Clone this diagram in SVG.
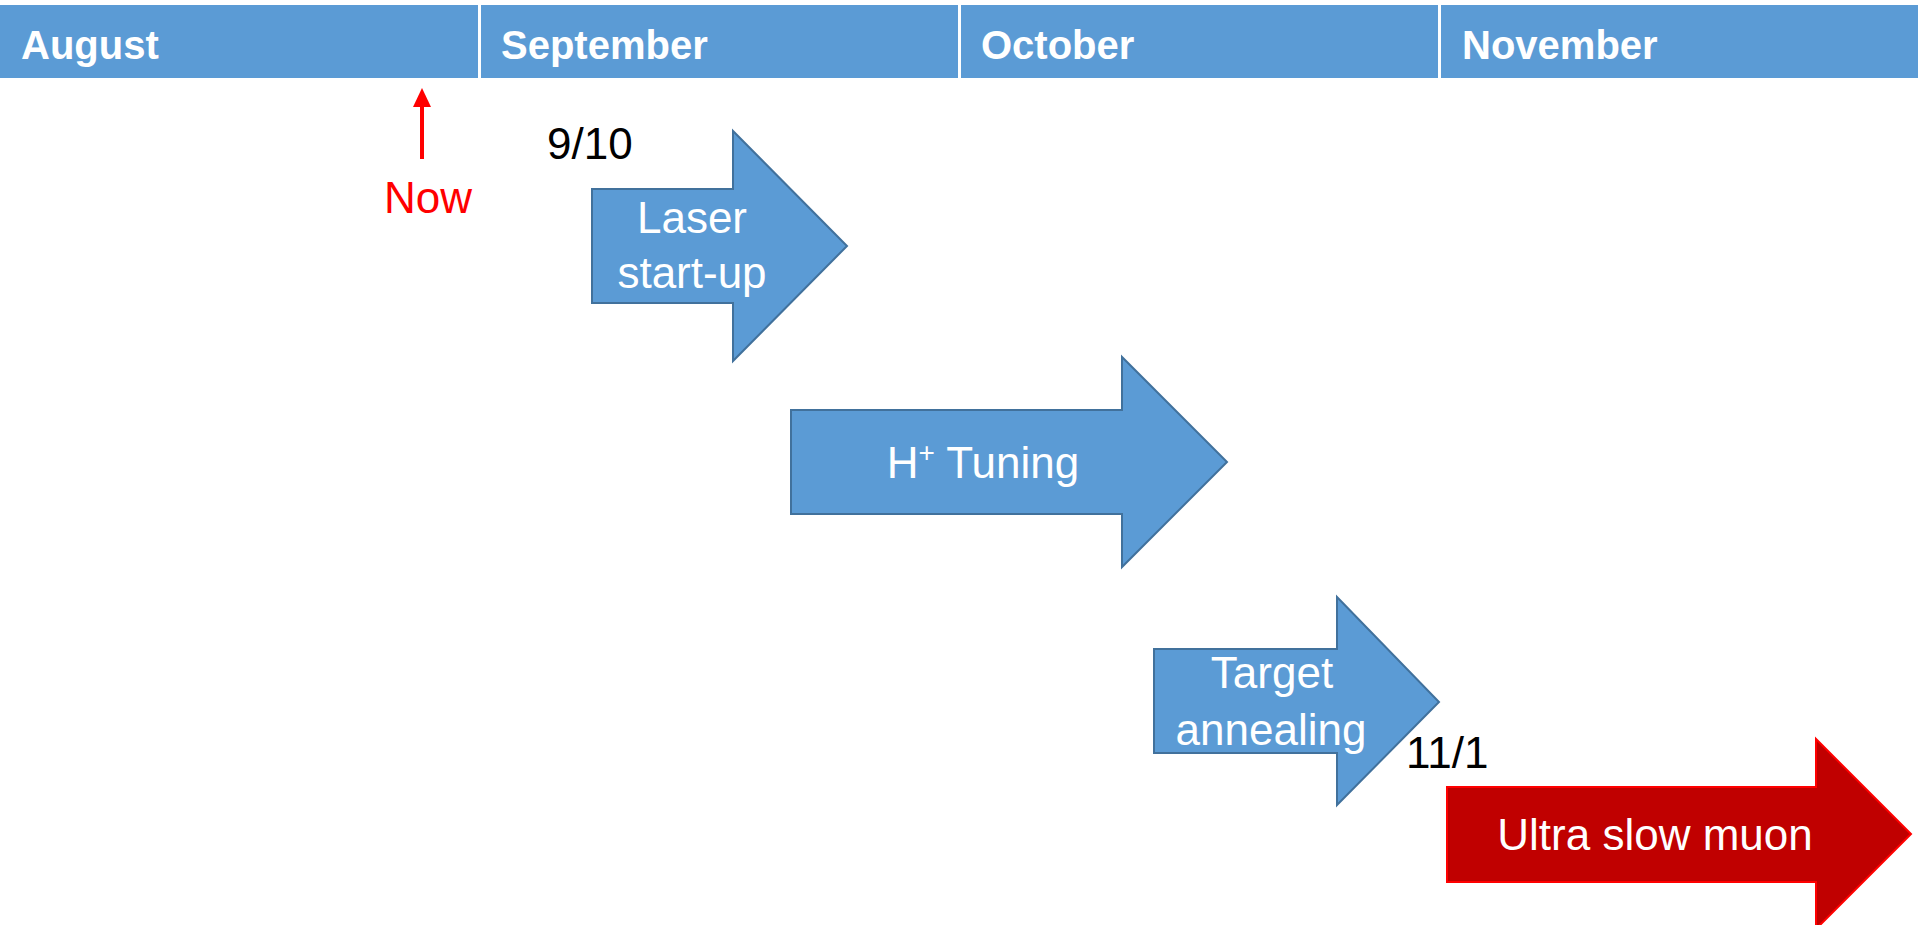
<svg xmlns="http://www.w3.org/2000/svg" width="1920" height="925" viewBox="0 0 1920 925">
<style>
.hdr{fill:#5B9BD5}
.ht{font-family:"Liberation Sans",Arial,sans-serif;font-weight:bold;font-size:40px;fill:#FFFFFF}
.blue{fill:#5B9BD5;stroke:#41719C;stroke-width:2;stroke-linejoin:miter}
.red{fill:#C00000;stroke:#FF0000;stroke-width:2;stroke-linejoin:miter}
.lbl{font-family:"Liberation Sans",Arial,sans-serif;font-size:44px;fill:#FFFFFF;text-anchor:middle}
.date{font-family:"Liberation Sans",Arial,sans-serif;font-size:44px;fill:#000000}
.now{font-family:"Liberation Sans",Arial,sans-serif;font-size:44px;fill:#FF0000}
</style>
<rect width="1920" height="925" fill="#FFFFFF"/>
<g id="header">
<g id="month-august"><rect class="hdr" x="0" y="5" width="478" height="73"/><text class="ht" x="21" y="59">August</text></g>
<g id="month-september"><rect class="hdr" x="481" y="5" width="477" height="73"/><text class="ht" x="501" y="59">September</text></g>
<g id="month-october"><rect class="hdr" x="961" y="5" width="477" height="73"/><text class="ht" x="981" y="59">October</text></g>
<g id="month-november"><rect class="hdr" x="1441" y="5" width="477" height="73"/><text class="ht" x="1462" y="59">November</text></g>
</g>
<g id="now-marker">
<line x1="422" y1="159" x2="422" y2="104" stroke="#FF0000" stroke-width="4"/>
<polygon points="413,107 431,107 422,88" fill="#FF0000"/>
<text class="now" x="384" y="213">Now</text>
</g>
<g id="connectors"></g>
<g id="laser-startup">
<polygon class="blue" points="592,189 733,189 733,131 847,246 733,361 733,303 592,303"/>
<text class="lbl" x="692" y="233">Laser</text>
<text class="lbl" x="692" y="288">start-up</text>
</g>
<text class="date" x="547" y="159">9/10</text>
<g id="h-tuning">
<polygon class="blue" points="791,410 1122,410 1122,357 1227,462 1122,567 1122,514 791,514"/>
<text class="lbl" x="983" y="478">H<tspan font-size="28px" dy="-16">+</tspan><tspan dy="16"> Tuning</tspan></text>
</g>
<g id="target-annealing">
<polygon class="blue" points="1154,649 1337,649 1337,597 1439,702 1337,805 1337,753 1154,753"/>
<text class="lbl" x="1272" y="688">Target</text>
<text class="lbl" x="1271" y="745">annealing</text>
</g>
<text class="date" x="1406" y="768">11/1</text>
<g id="ultra-slow-muon">
<polygon class="red" points="1447,787 1816,787 1816,739 1911,834 1816,929 1816,882 1447,882"/>
<text class="lbl" x="1655" y="850">Ultra slow muon</text>
</g>
</svg>
